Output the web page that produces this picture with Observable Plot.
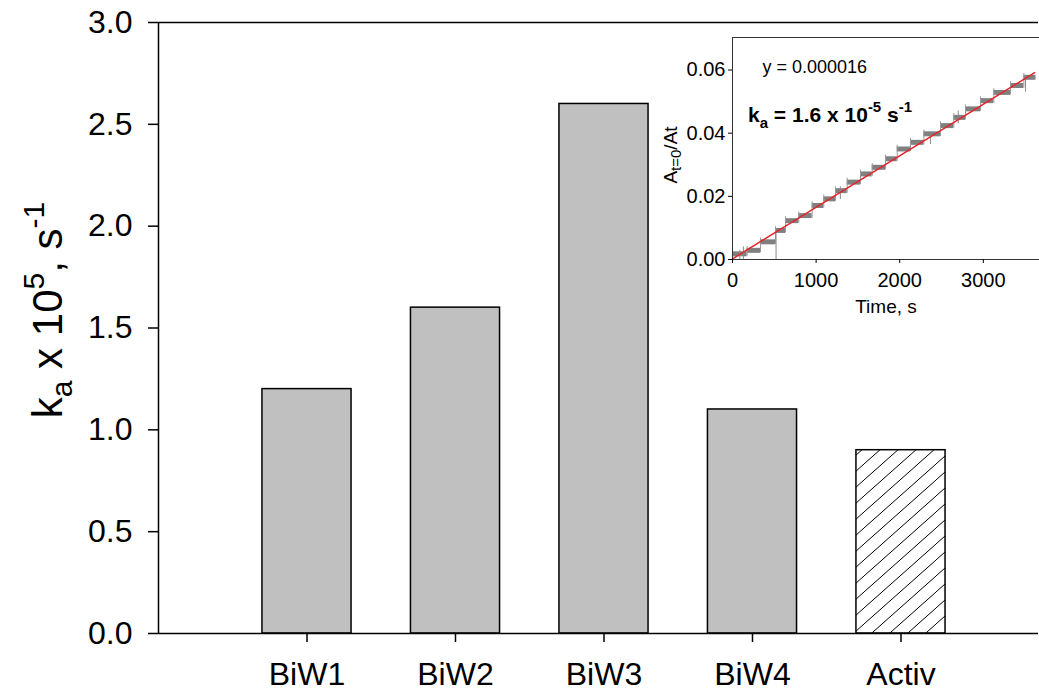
<!DOCTYPE html>
<html><head><meta charset="utf-8">
<script src="https://cdn.jsdelivr.net/npm/d3@7"></script>
<script src="https://cdn.jsdelivr.net/npm/@observablehq/plot@0.6"></script>
<style>
html,body{margin:0;padding:0;background:#fff;}
#wrap{position:relative;width:1039px;height:693px;overflow:hidden;}
#main{position:absolute;left:0;top:0;}
#inset{position:absolute;left:640px;top:20px;}
</style></head><body><div id="wrap"><div id="main"></div><div id="inset"></div></div>
<script>
// ---- main chart data ----
const categories = ["BiW1", "BiW2", "BiW3", "BiW4", "Activ"];
const rateValues = [1.2, 1.6, 2.6, 1.1, 0.9];
const hatched = [false, false, false, false, true];
const yTicks = [0, 0.5, 1.0, 1.5, 2.0, 2.5, 3.0];

// ---- inset data ----
const insetStepTimes = [0, 175, 335, 514, 634, 793, 953, 1092, 1232, 1372, 1531, 1671, 1830, 1970, 2129, 2289, 2488, 2647, 2787, 2967, 3126, 3325, 3485, 3630];
const insetStepLevels = [0.0018, 0.0029, 0.0056, 0.0092, 0.0123, 0.0139, 0.0171, 0.0192, 0.0218, 0.0245, 0.0271, 0.0292, 0.0319, 0.0350, 0.0371, 0.0398, 0.0424, 0.0450, 0.0477, 0.0503, 0.0529, 0.0551, 0.0577];
const spikeTimes = [88, 130, 521, 2369, 3505, 1290, 2700];
const spikeLows = [0.0, 0.0, 0.0, 0.0364, 0.053, 0.019, 0.043];
const spikeHighs = [0.0029, 0.004, 0.0082, 0.0395, 0.058, 0.023, 0.047];
const fitTimes = [0, 3615];
const fitValues = [0.0002, 0.0592];
const insetXTicks = [0, 1000, 2000, 3000];
const insetYTicks = [0, 0.02, 0.04, 0.06];

const FONT = '"Liberation Sans", Arial, Helvetica, sans-serif';

const bars = categories.map((c, i) => ({cat: c, pos: i + 1, v: rateValues[i], h: hatched[i]}));

const main = Plot.plot({
  width: 1039, height: 693,
  marginLeft: 158, marginRight: 1, marginTop: 22, marginBottom: 60,
  style: {fontFamily: FONT, fontSize: "32px", color: "black", background: "none", overflow: "visible"},
  x: {domain: [0, 5.926], label: null},
  y: {domain: [0, 3], label: null},
  marks: [
    Plot.rectY(bars.filter(d => !d.h), {x1: d => d.pos - 0.3, x2: d => d.pos + 0.3, y: "v", fill: "#c0c0c0", stroke: "black", strokeWidth: 1.5}),
    Plot.rectY(bars.filter(d => d.h), {x1: d => d.pos - 0.3, x2: d => d.pos + 0.3, y: "v", fill: "url(#hatch)", stroke: "black", strokeWidth: 1.5}),
    Plot.ruleY([0, 3], {stroke: "black", strokeWidth: 1.5}),
    Plot.ruleX([0], {stroke: "black", strokeWidth: 1.5}),
    Plot.axisY({ticks: yTicks, tickFormat: d3.format(".1f"), tickSize: 10, tickPadding: 16, fontSize: 32, strokeWidth: 1.5}),
    Plot.axisX({ticks: bars.map(d => d.pos), tickFormat: p => categories[p - 1], tickSize: 9, tickPadding: 20, fontSize: 32, strokeWidth: 1.5})
  ]
});
document.getElementById("main").appendChild(main);

// hatch pattern + y label with sub/superscripts
const ms = d3.select(main);
const pat = ms.insert("defs", ":first-child").append("pattern")
  .attr("id", "hatch").attr("patternUnits", "userSpaceOnUse")
  .attr("width", 18).attr("height", 16);
pat.append("rect").attr("width", 18).attr("height", 16).attr("fill", "white");
pat.append("path").attr("d", "M0,16L18,0M-18,16L0,0M18,16L36,0M-2,17.8L0,16M18,0L20,-1.8")
  .attr("stroke", "black").attr("stroke-width", 1).attr("fill", "none");

const yl = ms.append("text").attr("transform", "translate(62,310) rotate(-90)")
  .attr("text-anchor", "middle").attr("font-family", FONT).attr("font-size", 42).attr("fill", "black");
yl.append("tspan").text("k");
yl.append("tspan").attr("font-size", 30).attr("dy", 10).text("a");
yl.append("tspan").attr("dy", -10).text(" x 10");
yl.append("tspan").attr("font-size", 30).attr("dy", -18).text("5");
yl.append("tspan").attr("dy", 18).text(", s");
yl.append("tspan").attr("font-size", 30).attr("dy", -18).text("-1");

// ---- inset ----
const steps = insetStepLevels.map((l, i) => ({t0: insetStepTimes[i], t1: insetStepTimes[i + 1], level: l, prev: i > 0 ? insetStepLevels[i - 1] : 0}));
const spikes = spikeTimes.map((t, i) => ({t, lo: spikeLows[i], hi: spikeHighs[i]}));
const fit = fitTimes.map((t, i) => ({t, v: fitValues[i]}));

const inset = Plot.plot({
  width: 399, height: 300,
  marginLeft: 92, marginRight: 0, marginTop: 17, marginBottom: 61,
  style: {fontFamily: FONT, fontSize: "20px", color: "black", background: "none", overflow: "visible"},
  x: {domain: [0, 3672], label: null},
  y: {domain: [0, 0.0703], label: null},
  marks: [
    Plot.ruleY(steps, {y: "level", x1: "t0", x2: "t1", stroke: "#808080", strokeWidth: 5}),
    Plot.ruleX(steps.slice(1), {x: "t0", y1: d => d.prev - 0.0008, y2: d => d.level + 0.0012, stroke: "#9a9a9a", strokeWidth: 1}),
    Plot.ruleX(spikes, {x: "t", y1: "lo", y2: "hi", stroke: "#8a8a8a", strokeWidth: 1}),
    Plot.line(fit, {x: "t", y: "v", stroke: "#e3262b", strokeWidth: 1.5}),
    Plot.ruleY([0, 0.0703], {stroke: "#333", strokeWidth: 1}),
    Plot.ruleX([0], {stroke: "#333", strokeWidth: 1}),
    Plot.axisY({ticks: insetYTicks, tickFormat: d3.format(".2f"), tickSize: 4, tickPadding: 3, fontSize: 20}),
    Plot.axisX({ticks: insetXTicks, tickFormat: d3.format("d"), tickSize: 4, tickPadding: 9, fontSize: 20}),
    Plot.text(["Time, s"], {frameAnchor: "bottom", dy: 47, lineAnchor: "middle", fontSize: 19}),
    Plot.text(["y = 0.000016"], {frameAnchor: "top-left", dx: 30, dy: 30, textAnchor: "start", lineAnchor: "middle", fontSize: 18})
  ]
});
document.getElementById("inset").appendChild(inset);

const is = d3.select(inset);
const il = is.append("text").attr("transform", "translate(37,135) rotate(-90)")
  .attr("text-anchor", "middle").attr("font-family", FONT).attr("font-size", 19).attr("fill", "black");
il.append("tspan").text("A");
il.append("tspan").attr("font-size", 15).attr("dy", 4).text("t=0");
il.append("tspan").attr("dy", -4).text("/At");

const kt = is.append("text").attr("x", 108).attr("y", 102).attr("text-anchor", "start")
  .attr("font-family", FONT).attr("font-size", 21).attr("font-weight", "bold").attr("fill", "black");
kt.append("tspan").text("k");
kt.append("tspan").attr("font-size", 15).attr("dy", 6).text("a");
kt.append("tspan").attr("dy", -6).text(" = 1.6 x 10");
kt.append("tspan").attr("font-size", 15).attr("dy", -10).text("-5");
kt.append("tspan").attr("dy", 10).text(" s");
kt.append("tspan").attr("font-size", 15).attr("dy", -10).text("-1");
</script></body></html>
